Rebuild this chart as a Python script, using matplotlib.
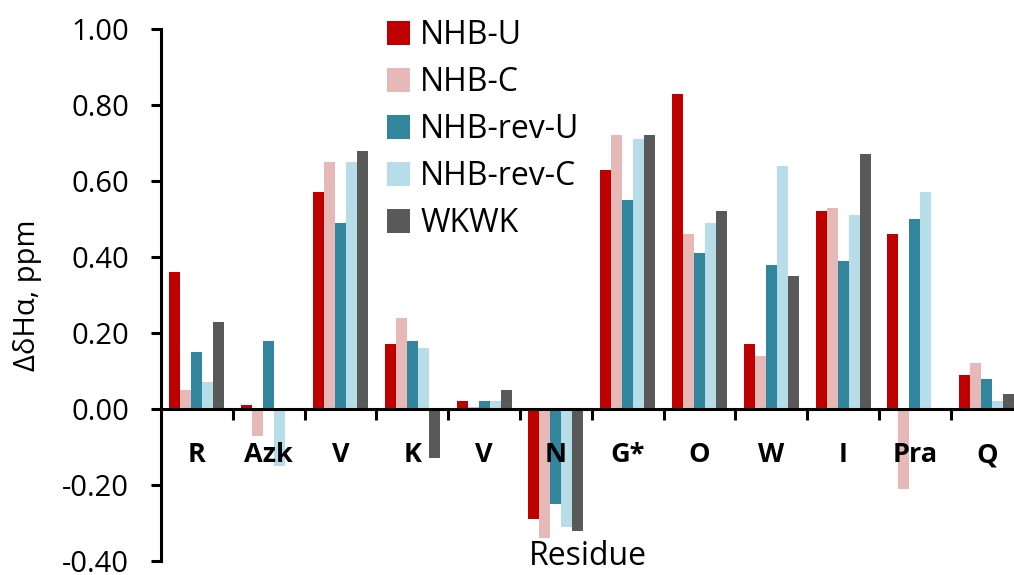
import numpy as np
import matplotlib
matplotlib.use("Agg")
import matplotlib.pyplot as plt
from matplotlib.ticker import FixedLocator, FormatStrFormatter

plt.rcParams['font.family'] = ['Open Sans', 'DejaVu Sans']

# ------------------------------------------
# DATA
# ------------------------------------------
residues = ["R", "Azk", "V", "K", "V", "N", "G*", "O", "W", "I", "Pra", "Q"]
series_names = ["NHB-U", "NHB-C", "NHB-rev-U", "NHB-rev-C", "WKWK"]
nhb_u = [0.36, 0.01, 0.57, 0.17, 0.02, -0.29, 0.63, 0.83, 0.17, 0.52, 0.46, 0.09]
nhb_c = [0.05, -0.07, 0.65, 0.24, 0.004, -0.34, 0.72, 0.46, 0.14, 0.53, -0.21, 0.12]
nhb_rev_u = [0.15, 0.18, 0.49, 0.18, 0.02, -0.25, 0.55, 0.41, 0.38, 0.39, 0.50, 0.08]
nhb_rev_c = [0.07, -0.15, 0.65, 0.16, 0.02, -0.31, 0.71, 0.49, 0.64, 0.51, 0.57, 0.02]
wkwk = [0.23, 0.0, 0.68, -0.13, 0.05, -0.32, 0.72, 0.52, 0.35, 0.67, 0.0, 0.04]
colors = ["#C00000", "#E6B9B8", "#31859C", "#B7DEE8", "#595959"]

all_series = [nhb_u, nhb_c, nhb_rev_u, nhb_rev_c, wkwk]

# ------------------------------------------
# PLOT
# ------------------------------------------
fig = plt.figure(figsize=(10.14, 5.75), dpi=100)
ax = fig.add_axes([0.1588, 0.0245, 0.8412, 0.9251])

x = np.arange(len(residues))
w = 0.153
handles = []
for i, (vals, col, name) in enumerate(zip(all_series, colors, series_names)):
    b = ax.bar(x + (i - 2) * w, vals, width=w, color=col, label=name, zorder=2)
    handles.append(b)

ax.set_xlim(-0.5, 11.38)
ax.set_ylim(-0.40, 1.00)
ax.set_axisbelow(False)

# spines
for s in ["top", "right"]:
    ax.spines[s].set_visible(False)
ax.spines["bottom"].set_position(("data", 0))
ax.spines["bottom"].set_linewidth(2.2)
ax.spines["left"].set_linewidth(2.2)
ax.spines["bottom"].set_zorder(3)

# y axis
ax.yaxis.set_major_locator(FixedLocator(np.arange(-0.4, 1.01, 0.2)))
ax.yaxis.set_major_formatter(FormatStrFormatter("%.2f"))
ax.tick_params(axis="y", direction="out", length=7, width=2.2, labelsize=21, pad=16)

# x axis: labels at centers, tick marks at boundaries
ax.set_xticks(x)
ax.set_xticklabels(residues, fontsize=19.5, fontweight="bold")
ax.set_xticks(np.arange(0.5, 11.5, 1.0), minor=True)
ax.tick_params(axis="x", which="major", length=0, pad=24)
ax.tick_params(axis="x", which="minor", direction="out", length=8, width=2.2)

ax.set_ylabel("\u0394\u03b4H\u03b1, ppm", fontsize=21)
ax.yaxis.set_label_coords(-0.14, 0.5)
ax.set_xlabel("Residue", fontsize=23)
ax.xaxis.set_label_coords(0.5, 0.04)

fig.legend(handles=handles, loc="upper left", bbox_to_anchor=(387 / 1014, 1 - 19 / 575),
           frameon=False, fontsize=23, handlelength=0.72, handleheight=0.75,
           handletextpad=0.32, labelspacing=0.44, borderpad=0, borderaxespad=0)

plt.savefig("out.png", dpi=100)
